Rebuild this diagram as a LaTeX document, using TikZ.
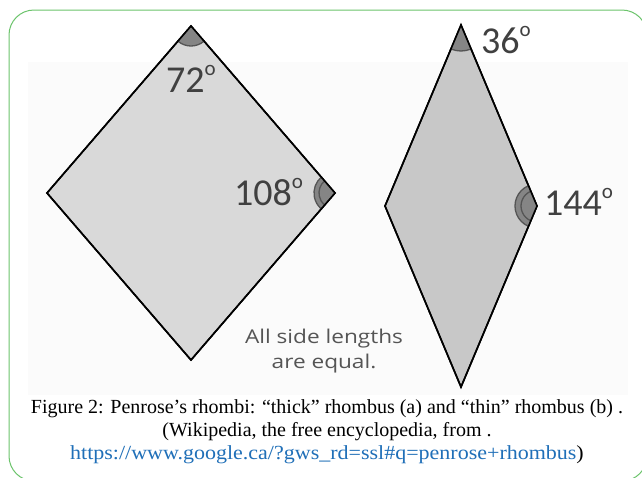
\documentclass[tikz,border=0pt]{standalone}
\usepackage{fontspec}
\setmainfont{Liberation Serif}
\newfontfamily\lblfont{Carlito}
\newfontfamily\notefont{Open Sans}
\definecolor{frame}{HTML}{6CC46C}
\definecolor{thickfill}{HTML}{D9D9D9}
\definecolor{thinfill}{HTML}{C8C8C8}
\definecolor{sector}{HTML}{858585}
\definecolor{arcline}{HTML}{555555}
\definecolor{lbl}{HTML}{404040}
\definecolor{note}{HTML}{555555}
\definecolor{link}{HTML}{1F6FB8}
\tikzset{
  rhomb/.style={draw=black, line width=1.6pt, line join=miter},
  sect/.style={fill=sector},
  arcst/.style={draw=arcline, line width=1.3pt},
  deg/.style={font=\lblfont\fontsize{38}{40}\selectfont, text=lbl, inner sep=0pt, anchor=base west},
  notetxt/.style={font=\notefont\fontsize{19}{21}\selectfont, text=note, inner sep=0pt, anchor=base, xscale=1.19},
  captxt/.style={font=\fontsize{20}{22}\selectfont, inner sep=0pt}
}
\newcommand{\dg}{\raisebox{17pt}{\fontsize{21}{21}\selectfont o}}
\begin{document}
\begin{tikzpicture}[x=1pt,y=1pt]
\useasboundingbox (0,0) rectangle (642,-477);
\fill[white] (0,0) rectangle (642,-477);
\fill[gray!3] (28,-62) rectangle (628,-395);
\begin{scope}
\clip (0,0) rectangle (642,-477);
\draw[frame, line width=1pt, rounded corners=25pt] (9,-10) rectangle (647,-481);
\end{scope}
% thick rhombus
\coordinate (T1) at (191,-26);
\coordinate (L1) at (47,-193);
\coordinate (R1) at (335,-193);
\coordinate (B1) at (191,-360);
\filldraw[rhomb, fill=thickfill] (T1) -- (R1) -- (B1) -- (L1) -- cycle;
\fill[sect] (T1) -- ++(229.2:20) arc[start angle=229.2, end angle=310.8, radius=20] -- cycle;
\draw[arcst] (T1) ++(229.2:20) arc[start angle=229.2, end angle=310.8, radius=20];
\fill[sect] (R1) -- ++(130.8:21) arc[start angle=130.8, end angle=229.2, radius=21] -- cycle;
\draw[arcst] (R1) ++(130.8:21) arc[start angle=130.8, end angle=229.2, radius=21];
\draw[arcst] (R1) ++(130.8:16) arc[start angle=130.8, end angle=229.2, radius=16];
\draw[rhomb] (T1) -- (R1) -- (B1) -- (L1) -- cycle;
% thin rhombus
\coordinate (T2) at (461,-25);
\coordinate (L2) at (385,-206);
\coordinate (R2) at (537,-206);
\coordinate (B2) at (461,-387);
\filldraw[rhomb, fill=thinfill] (T2) -- (R2) -- (B2) -- (L2) -- cycle;
\fill[sect] (T2) -- ++(247.2:26) arc[start angle=247.2, end angle=292.8, radius=26] -- cycle;
\draw[arcst] (T2) ++(247.2:26) arc[start angle=247.2, end angle=292.8, radius=26];
\fill[sect] (R2) -- ++(112.8:22) arc[start angle=112.8, end angle=247.2, radius=22] -- cycle;
\draw[arcst] (R2) ++(112.8:22) arc[start angle=112.8, end angle=247.2, radius=22];
\draw[arcst] (R2) ++(112.8:16) arc[start angle=112.8, end angle=247.2, radius=16];
\draw[rhomb] (T2) -- (R2) -- (B2) -- (L2) -- cycle;
% labels
\node[deg] (a72) at (166,-92) {72\dg};
\node[deg] (a108) at (234,-205) {108\dg};
\node[deg] (a36) at (481,-53) {36\dg};
\node[deg] (a144) at (544,-215) {144\dg};
\node[notetxt] (n1) at (324,-343) {All side lengths};
\node[notetxt] (n2) at (324,-368) {are equal.};
% caption
\node[captxt] (c1) at (327,-409) {Figure 2: Penrose’s rhombi: “thick” rhombus (a) and “thin” rhombus (b) .};
\node[captxt] (c2) at (327,-432) {(Wikipedia, the free encyclopedia, from .};
\node[captxt, xscale=1.1] (c3) at (327,-455) {\textcolor{link}{https://www.google.ca/?gws\_rd=ssl\#q=penrose+rhombus})};
\end{tikzpicture}
\end{document}
